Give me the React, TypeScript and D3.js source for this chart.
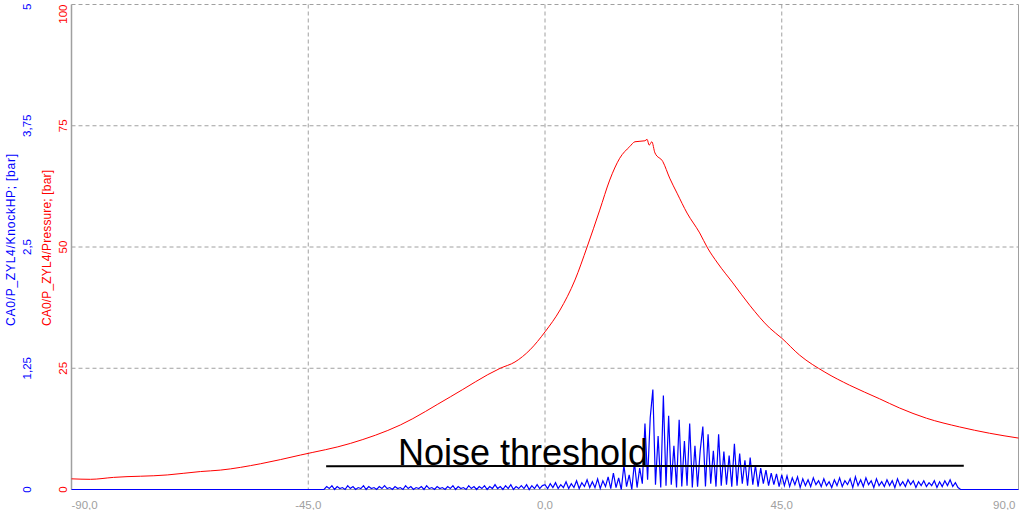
import React from "react";
import * as d3 from "d3";

// ---------- data ----------
const xTicks = [-90, -45, 0, 45, 90];
const xTickLabels = ["-90,0", "-45,0", "0,0", "45,0", "90,0"];
const pressureTicks = [0, 25, 50, 75, 100];
const pressureTickLabels = ["0", "25", "50", "75", "100"];
const knockTicks = [0, 1.25, 2.5, 3.75, 5];
const knockTickLabels = ["0", "1,25", "2,5", "3,75", "5"];

// Cylinder pressure [bar] vs crank angle [deg]
const pressureAngle = [
  -90, -86.4, -82.0, -71.8, -65.5, -61.7, -54.1, -46.5, -37.0, -27.5, -18.0, -8.5, -5.7, -2.85, 0,
  2.85, 5.7, 8.0, 10.4, 12.3, 14.2, 16.1, 17.1, 19.0, 19.4, 19.8, 20.3, 20.9, 22.4, 23.7, 25.1,
  27.0, 29.4, 30.9, 32.8, 35.7, 38.9, 42.7, 45.0, 48.4, 53.2, 57.9, 63.6, 67.4, 72.5, 78.8, 84.5, 90,
];
const pressureValue = [
  2.2, 2.1, 2.5, 3.0, 3.7, 4.0, 5.3, 7.1, 9.5, 13.3, 19.1, 25.0, 26.3, 28.8, 32.5,
  37.0, 43.2, 50.0, 57.6, 63.8, 68.3, 70.7, 71.7, 71.9, 72.2, 71.0, 71.7, 69.4, 67.6, 64.2, 61.1,
  57.0, 52.9, 49.8, 46.7, 42.6, 38.0, 33.3, 31.2, 27.7, 24.2, 21.5, 18.7, 16.8, 14.7, 12.9, 11.6, 10.6,
];

// Knock high-pass signal [bar], sampled every 0.5 deg from -41.5 deg to 78.5 deg
const knockStart = -41.5;
const knockStep = 0.5;
const knockValue = [
  0.03, 0.01, 0.04, 0.00, 0.03, 0.01, 0.02, 0.00, 0.04, 0.01,
  0.03, 0.00, 0.02, 0.01, 0.04, 0.00, 0.03, 0.01, 0.02, 0.00,
  0.03, 0.01, 0.04, 0.01, 0.02, 0.00, 0.03, 0.01, 0.02, 0.00,
  0.04, 0.01, 0.03, 0.00, 0.02, 0.01, 0.03, 0.00, 0.04, 0.01,
  0.02, 0.00, 0.03, 0.01, 0.02, 0.00, 0.03, 0.01, 0.04, 0.00,
  0.03, 0.01, 0.02, 0.00, 0.04, 0.01, 0.03, 0.00, 0.03, 0.01,
  0.04, 0.00, 0.03, 0.01, 0.05, 0.01, 0.03, 0.00, 0.04, 0.01,
  0.05, 0.00, 0.03, 0.01, 0.04, 0.01, 0.05, 0.00, 0.04, 0.01,
  0.05, 0.01, 0.04,
  // 0 .. 8.5
  0.05, 0.01, 0.06, 0.02, 0.07, 0.01, 0.05, 0.02, 0.08, 0.01, 0.06, 0.02, 0.09, 0.01, 0.07, 0.03, 0.10, 0.02,
  // 9 .. 18
  0.08, 0.02, 0.11, 0.01, 0.09, 0.03, 0.13, 0.01, 0.17, 0.02, 0.12, 0.00, 0.25, 0.03, 0.15, 0.00, 0.28, 0.02, 0.22,
  // 18.5 .. 45
  0.06, 0.68, 0.10, 0.74, 1.03, 0.05, 0.55, 0.02, 0.97, 0.04,
  0.76, 0.05, 0.45, 0.02, 0.72, 0.03, 0.50, 0.04, 0.68, 0.02,
  0.45, 0.03, 0.40, 0.65, 0.03, 0.57, 0.06, 0.40, 0.03, 0.57,
  0.04, 0.39, 0.05, 0.35, 0.03, 0.47, 0.04, 0.37, 0.06, 0.30,
  0.04, 0.33, 0.05, 0.25, 0.03, 0.22, 0.06, 0.20, 0.04, 0.17,
  0.05, 0.16, 0.03, 0.15,
  // 45.5 .. 78.5
  0.04, 0.14, 0.03, 0.12, 0.05, 0.13, 0.02, 0.11, 0.04, 0.10,
  0.03, 0.12, 0.05, 0.09, 0.03, 0.11, 0.04, 0.08, 0.02, 0.10,
  0.04, 0.12, 0.03, 0.09, 0.05, 0.11, 0.02, 0.13, 0.04, 0.10,
  0.03, 0.12, 0.05, 0.09, 0.02, 0.11, 0.04, 0.08, 0.03, 0.10,
  0.04, 0.09, 0.02, 0.11, 0.04, 0.08, 0.03, 0.10, 0.05, 0.09,
  0.02, 0.08, 0.04, 0.09, 0.03, 0.07, 0.04, 0.09, 0.02, 0.08,
  0.03, 0.09, 0.04, 0.10, 0.03, 0.07, 0.02,
];
const knockZeroBefore = [-90, -42];
const knockZeroAfter = [79, 90];

// Noise threshold (knock scale)
const thresholdAngle = [-41.6, 79.6];
const thresholdValue = [0.24, 0.245];
const thresholdLabel = "Noise threshold";

const knockTitle = "CA0/P_ZYL4/KnockHP; [bar]";
const pressureTitle = "CA0/P_ZYL4/Pressure; [bar]";

// ---------- layout ----------
const W = 1024;
const H = 510;
const left = 71.5;
const right = 1018.5;
const top = 4.5;
const bottom = 489.5;

const FONT = "'Liberation Sans', Arial, sans-serif";
const GRID = "#a0a0a0";
const RED = "#ff0000";
const BLUE = "#0000ff";

export default function App() {
  const x = d3.scaleLinear().domain([-90, 90]).range([left, right]);
  const yP = d3.scaleLinear().domain([0, 100]).range([bottom, top]);
  const yK = d3.scaleLinear().domain([0, 5]).range([bottom, top]);

  const pressurePts: [number, number][] = pressureAngle.map((a, i) => [a, pressureValue[i]]);
  const knockPts: [number, number][] = [
    ...knockZeroBefore.map((a) => [a, 0] as [number, number]),
    ...knockValue.map((v, i) => [knockStart + i * knockStep, v] as [number, number]),
    ...knockZeroAfter.map((a) => [a, 0] as [number, number]),
  ];

  const pLine = d3
    .line<[number, number]>()
    .x((d) => x(d[0]))
    .y((d) => yP(d[1]))
    .curve(d3.curveMonotoneX);
  const kLine = d3
    .line<[number, number]>()
    .x((d) => x(d[0]))
    .y((d) => yK(d[1]));

  const tX1 = x(thresholdAngle[0]);
  const tX2 = x(thresholdAngle[1]);

  return (
    <svg
      width={W}
      height={H}
      style={{ position: "absolute", left: 0, top: 0, display: "block", background: "#fff" }}
    >
      {/* grid */}
      {pressureTicks.slice(1).map((t) => (
        <line
          key={"hg" + t}
          x1={left}
          x2={right}
          y1={yP(t)}
          y2={yP(t)}
          stroke={GRID}
          strokeWidth={1}
          strokeDasharray="4,3"
        />
      ))}
      {xTicks.slice(1, -1).map((t) => (
        <line
          key={"vg" + t}
          x1={x(t)}
          x2={x(t)}
          y1={top}
          y2={bottom}
          stroke={GRID}
          strokeWidth={1}
          strokeDasharray="4,3"
        />
      ))}
      {/* frame */}
      <line x1={left} x2={left} y1={top} y2={bottom} stroke={GRID} strokeWidth={1.5} />
      <line x1={right} x2={right} y1={top} y2={bottom} stroke={GRID} strokeWidth={1} />
      <line x1={left} x2={right} y1={bottom} y2={bottom} stroke={GRID} strokeWidth={1} />

      {/* x tick labels */}
      {xTicks.map((t, i) => (
        <text
          key={"xt" + t}
          x={i === 0 ? left : i === xTicks.length - 1 ? right - 3 : x(t)}
          y={508.5}
          fontFamily={FONT}
          fontSize={11.5}
          fill={GRID}
          textAnchor={i === 0 ? "start" : i === xTicks.length - 1 ? "end" : "middle"}
        >
          {xTickLabels[i]}
        </text>
      ))}

      {/* pressure tick labels (red) */}
      {pressureTicks.map((t, i) => {
        const yy = i === pressureTicks.length - 1 ? top : yP(t);
        return (
          <text
            key={"pt" + t}
            transform={`translate(66.5,${yy}) rotate(-90)`}
            fontFamily={FONT}
            fontSize={11.5}
            fill={RED}
            textAnchor={i === pressureTicks.length - 1 ? "end" : "middle"}
          >
            {pressureTickLabels[i]}
          </text>
        );
      })}
      {/* knock tick labels (blue) */}
      {knockTicks.map((t, i) => {
        const yy = i === knockTicks.length - 1 ? top - 1 : yK(t);
        return (
          <text
            key={"kt" + t}
            transform={`translate(31,${yy}) rotate(-90)`}
            fontFamily={FONT}
            fontSize={11.5}
            fill={BLUE}
            textAnchor={i === knockTicks.length - 1 ? "end" : "middle"}
          >
            {knockTickLabels[i]}
          </text>
        );
      })}

      {/* axis titles */}
      <text
        transform={`translate(14.5,326) rotate(-90)`}
        fontFamily={FONT}
        fontSize={12}
        fill={BLUE}
        textAnchor="start"
        textLength={172}
        lengthAdjust="spacing"
      >
        {knockTitle}
      </text>
      <text
        transform={`translate(50.5,326) rotate(-90)`}
        fontFamily={FONT}
        fontSize={12}
        fill={RED}
        textAnchor="start"
        textLength={156}
        lengthAdjust="spacing"
      >
        {pressureTitle}
      </text>

      {/* series */}
      <path d={pLine(pressurePts) || ""} fill="none" stroke={RED} strokeWidth={1} />
      <path d={kLine(knockPts) || ""} fill="none" stroke={BLUE} strokeWidth={1.2} />

      {/* noise threshold */}
      <line
        x1={tX1}
        x2={tX2}
        y1={yK(thresholdValue[0])}
        y2={yK(thresholdValue[1])}
        stroke="#000"
        strokeWidth={2}
      />
      <text x={398} y={465} fontFamily={FONT} fontSize={36} fill="#000">
        {thresholdLabel}
      </text>
    </svg>
  );
}
